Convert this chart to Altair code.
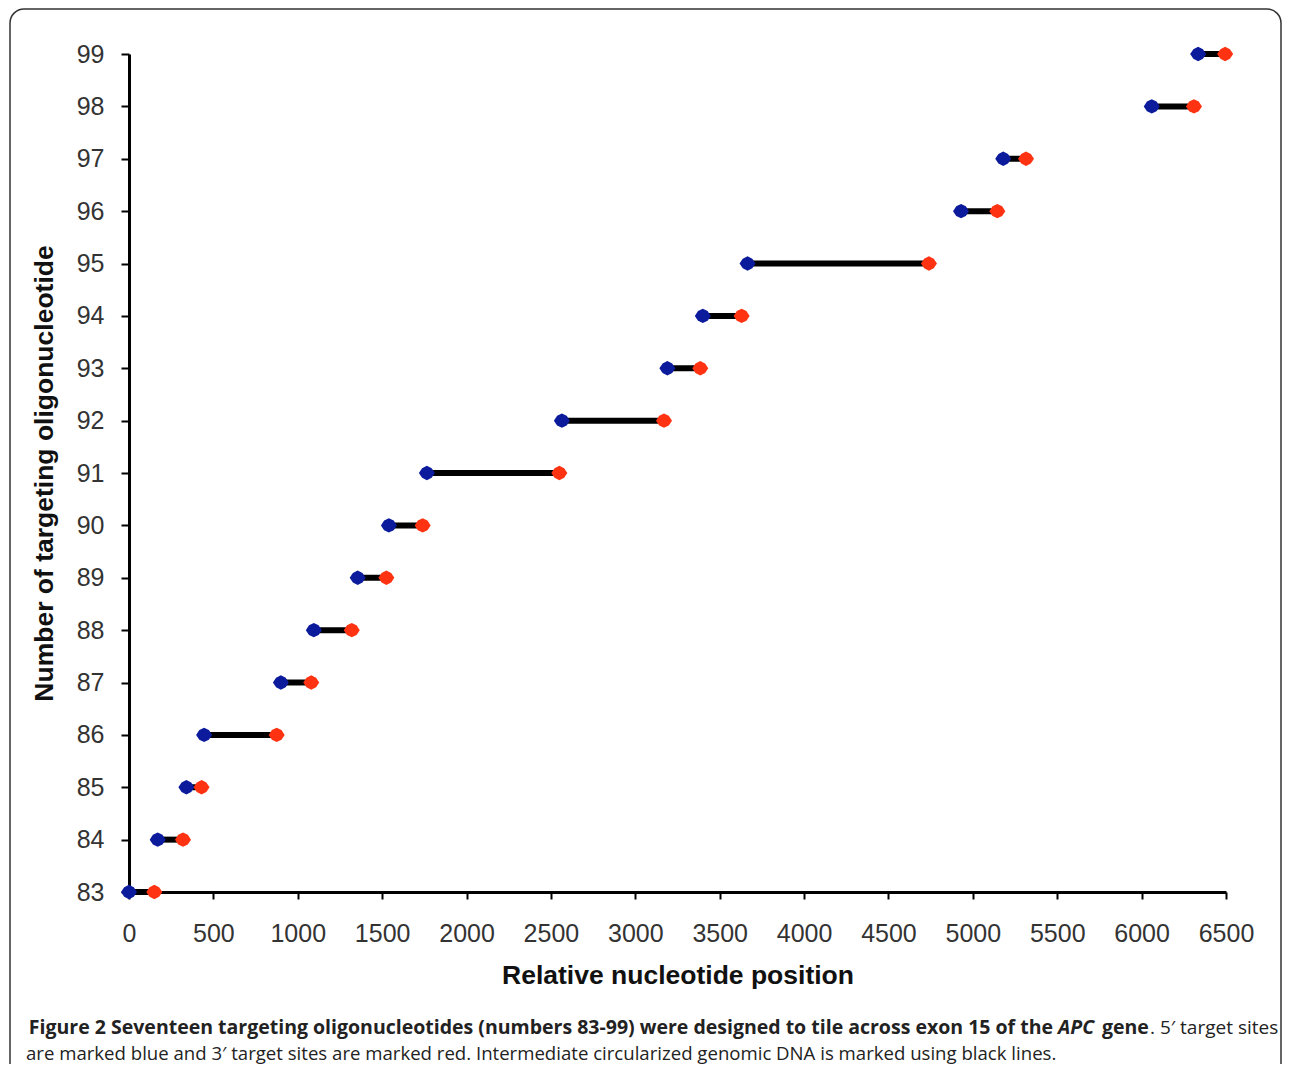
import altair as alt
import pandas as pd

# ---- data ----
oligo = list(range(83, 100))
start_5 = [0, 170, 340, 445, 900, 1095, 1355, 1540, 1765, 2565, 3190, 3400, 3665, 4930, 5180, 6060, 6335]
end_3 = [150, 320, 430, 875, 1080, 1320, 1525, 1740, 2550, 3170, 3385, 3630, 4740, 5145, 5315, 6310, 6495]
x_ticks = list(range(0, 6501, 500))
y_ticks = list(range(83, 100))

cap1_bold = "Figure 2 Seventeen targeting oligonucleotides (numbers 83-99) were designed to tile across exon 15 of the"
cap1_ital = "APC"
cap1_bold2 = "gene"
cap1_rest = ". 5\u2032 target sites"
cap2 = "are marked blue and 3\u2032 target sites are marked red. Intermediate circularized genomic DNA is marked using black lines."

df = pd.DataFrame({"oligo": oligo, "start": start_5, "end": end_3})

W, H = 1097, 838
OX, OY = 129, 54  # page position of plot origin
FONT = "Liberation Sans"
CAPFONT = "Open Sans"
BLUE = "#0b1b9b"
RED = "#ff3311"
SHAPE = "M-1,0L-0.6,-0.6L0,-0.9L0.6,-0.6L1,0L0.6,0.6L0,0.9L-0.6,0.6Z"

xs = alt.Scale(domain=[0, 6500], nice=False, zero=False)
ys = alt.Scale(domain=[83, 99], nice=False, zero=False)

x_axis = alt.Axis(values=x_ticks, title="Relative nucleotide position", labelFont=FONT,
                  labelFontSize=25, labelColor="#333", labelPadding=22, labelFlush=False,
                  tickSize=7, tickWidth=2, tickColor="black", domainWidth=3, domainColor="black",
                  grid=False, titleFont=FONT, titleFontSize=26.5, titleFontWeight="bold",
                  titleColor="#111", titlePadding=16, format="d")
y_axis = alt.Axis(values=y_ticks, title="Number of targeting oligonucleotide", labelFont=FONT,
                  labelFontSize=25, labelColor="#333", labelPadding=17, labelFlush=False,
                  tickSize=8, tickWidth=2, tickColor="black", domainWidth=3, domainColor="black",
                  grid=False, titleFont=FONT, titleFontSize=26.5, titleFontWeight="bold",
                  titleColor="#111", titlePadding=18, format="d")

base = alt.Chart(df)
lines = base.mark_rule(color="black", strokeWidth=6).encode(
    x=alt.X("start:Q", scale=xs, axis=x_axis),
    x2="end:Q",
    y=alt.Y("oligo:Q", scale=ys, axis=y_axis),
)
blue = base.mark_point(shape=SHAPE, size=256, filled=True, color=BLUE, opacity=1).encode(
    x=alt.X("start:Q", scale=xs, axis=x_axis),
    y=alt.Y("oligo:Q", scale=ys, axis=y_axis),
)
red = base.mark_point(shape=SHAPE, size=256, filled=True, color=RED, opacity=1).encode(
    x=alt.X("end:Q", scale=xs, axis=x_axis),
    y=alt.Y("oligo:Q", scale=ys, axis=y_axis),
)

one = alt.Data(values=[{"k": 1}])

frame = alt.Chart(one).mark_rect(fill="transparent", stroke="#333", strokeWidth=1.5,
                                 cornerRadius=14).encode(
    x=alt.value(10 - OX), x2=alt.value(1281 - OX),
    y=alt.value(9 - OY), y2=alt.value(1300),
)


def txt(s, x, y, size, weight="normal", style="normal", align="left"):
    return alt.Chart(one).mark_text(font=CAPFONT, fontSize=size, fontWeight=weight,
                                    fontStyle=style, align=align, baseline="middle",
                                    color="#222").encode(
        x=alt.value(x - OX), y=alt.value(y - OY), text=alt.value(s))


captions = [
    txt(cap1_bold, 1053, 1028, 19.5, weight="bold", align="right"),
    txt(cap1_ital, 1058, 1028, 19.5, weight="bold", style="italic"),
    txt(cap1_bold2, 1102, 1028, 19.5, weight="bold"),
    txt(cap1_rest, 1150, 1028, 19),
    txt(cap2, 26, 1054, 18.6),
]

chart = alt.layer(frame, lines, blue, red, *captions).properties(
    width=W, height=H,
    autosize=alt.AutoSizeParams(type="none"),
    padding={"left": 121, "top": 46, "right": 56, "bottom": 172},
    background="white",
).configure_view(stroke=None)

chart.save("out.html", embed_options={"renderer": "svg", "actions": False})
